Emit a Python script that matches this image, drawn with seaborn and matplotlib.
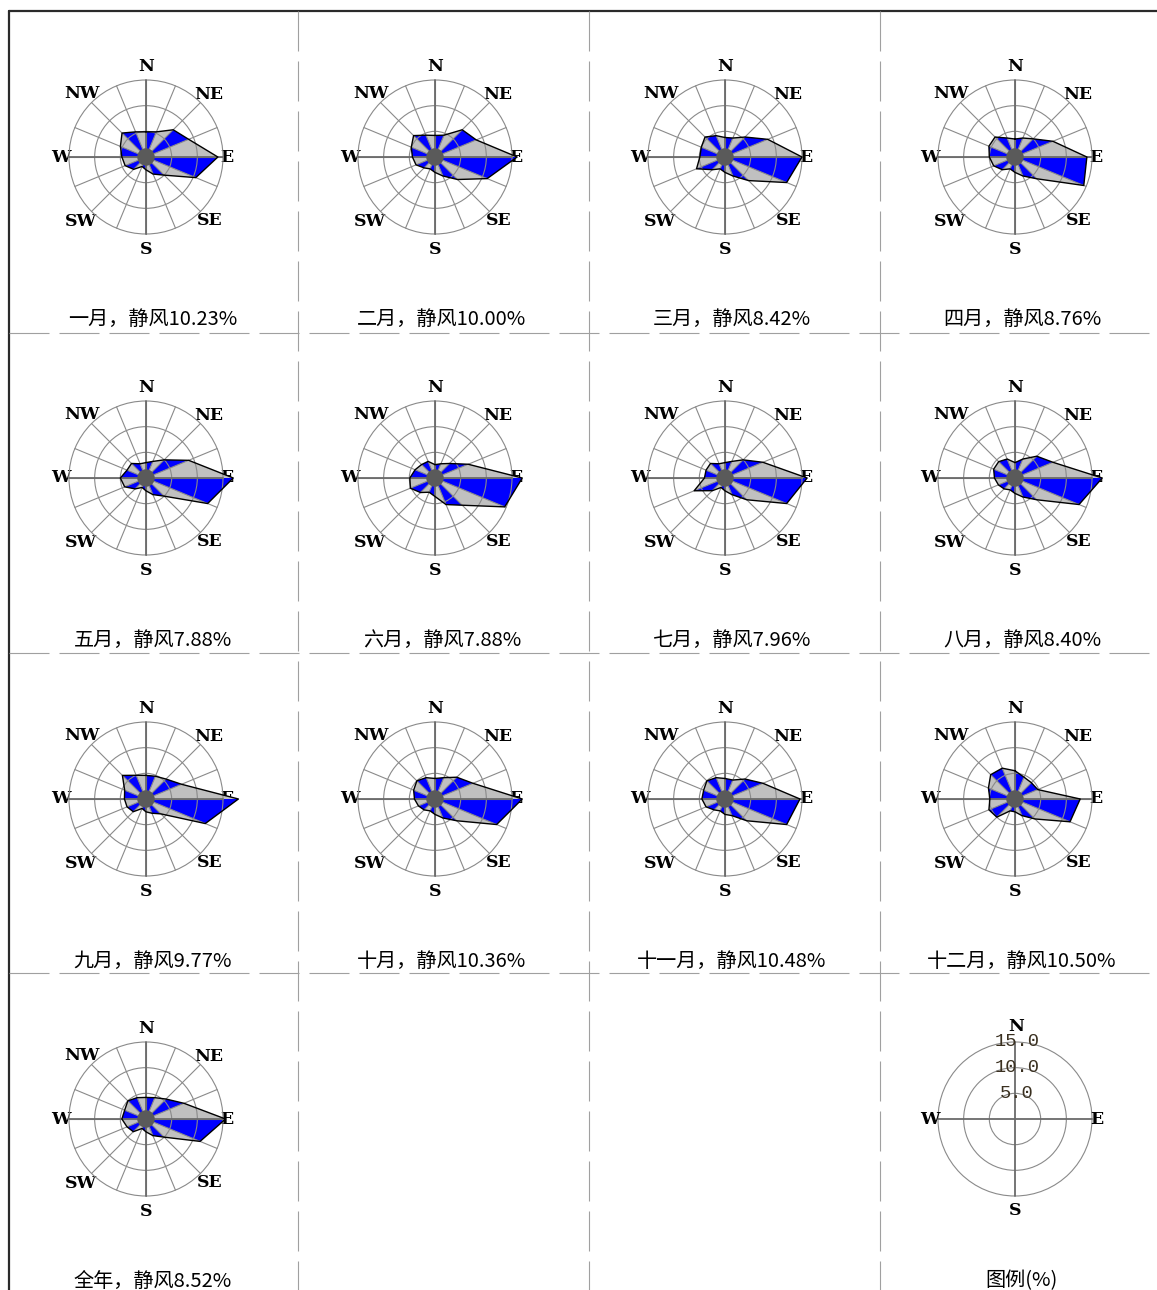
import numpy as np
import seaborn as sns
import matplotlib
matplotlib.use("Agg")
import matplotlib.pyplot as plt
from matplotlib.patches import Polygon, Circle

sns.set_theme(style="white")
plt.rcParams['font.family'] = ['Noto Sans CJK SC', 'DejaVu Sans']

# 16 wind directions, clockwise from north
directions = ['N', 'NNE', 'NE', 'ENE', 'E', 'ESE', 'SE', 'SSE',
              'S', 'SSW', 'SW', 'WSW', 'W', 'WNW', 'NW', 'NNW']
angles = np.arange(16) * 22.5

titles = ['一月', '二月', '三月', '四月', '五月', '六月', '七月', '八月',
          '九月', '十月', '十一月', '十二月', '全年']
calm = [10.23, 10.00, 8.42, 8.76, 7.88, 7.88, 7.96, 8.40, 9.77, 10.36, 10.48, 10.50, 8.52]

# direction frequency (%), order as in `directions`
jan = [4.9, 5.3, 7.5, 9.0, 14.0, 10.5, 5.0, 3.6, 2.5, 2.0, 3.4, 4.4, 4.7, 5.4, 6.6, 5.3]
feb = [4.2, 4.6, 7.5, 8.7, 16.0, 11.0, 6.2, 4.0, 3.0, 2.5, 3.0, 4.0, 4.4, 5.0, 5.9, 4.6]
mar = [3.8, 4.0, 5.5, 9.0, 15.0, 13.0, 6.5, 4.0, 3.0, 2.5, 3.5, 6.0, 4.9, 5.0, 5.5, 4.5]
apr = [3.5, 4.0, 5.0, 8.0, 14.0, 14.5, 6.0, 4.0, 3.0, 2.5, 3.5, 4.5, 5.0, 5.5, 5.5, 4.0]
may = [3.0, 3.5, 5.0, 9.0, 17.0, 13.0, 5.0, 3.5, 2.5, 2.0, 3.0, 4.5, 5.0, 4.0, 4.0, 3.0]
jun = [2.6, 3.0, 4.0, 7.0, 17.0, 14.7, 7.5, 5.6, 3.6, 3.0, 4.0, 5.2, 4.9, 4.2, 3.7, 3.5]
jul = [3.0, 3.5, 5.0, 8.0, 16.0, 13.0, 6.0, 3.5, 2.5, 2.0, 3.5, 6.5, 4.0, 4.0, 4.0, 3.0]
aug = [3.0, 4.0, 6.0, 8.0, 17.0, 13.5, 6.0, 4.0, 3.0, 2.5, 3.0, 3.5, 4.0, 4.5, 4.5, 4.0]
sep = [4.6, 4.8, 5.5, 7.5, 18.0, 12.5, 4.1, 3.0, 2.5, 2.0, 3.5, 4.0, 4.2, 4.5, 6.5, 5.0]
oct_ = [4.0, 4.5, 6.0, 8.0, 17.0, 13.0, 6.0, 4.0, 3.0, 2.5, 3.0, 3.5, 4.0, 4.5, 5.0, 4.5]
nov = [4.0, 4.0, 5.5, 8.0, 14.6, 13.0, 6.0, 3.5, 3.0, 2.5, 3.0, 4.0, 4.5, 4.5, 5.0, 4.5]
dec = [5.5, 4.6, 4.5, 4.8, 12.7, 11.6, 5.5, 3.5, 2.5, 2.5, 5.0, 5.5, 4.9, 5.6, 6.7, 6.5]
annual = [4.2, 4.5, 5.5, 8.0, 15.5, 11.4, 5.0, 3.5, 2.5, 2.0, 3.5, 4.0, 4.7, 4.5, 5.0, 4.5]
freqs = [jan, feb, mar, apr, may, jun, jul, aug, sep, oct_, nov, dec, annual]

rings = [5, 10, 15]
ring_labels = ['5.0', '10.0', '15.0']

W, H = 1157, 1290
fig = plt.figure(figsize=(W / 100, H / 100), dpi=100)
fig.patch.set_facecolor('white')

bg = fig.add_axes([0, 0, 1, 1])
bg.set_xlim(0, W)
bg.set_ylim(H, 0)
bg.axis('off')

col_x = [146, 435, 725, 1015]
row_y = [157, 478, 799, 1119]
PX = 77 / 15.0   # pixels per percent
R = 20

GRID = '#8a8a8a'
AXIS = '#6a6a6a'
lab_font = dict(family='DejaVu Serif', fontsize=12.5, fontweight='bold', color='black')

# page frame and dashed cell separators
bg.plot([9, W], [11, 11], color='#2a2a2a', lw=1.6)
bg.plot([9, 9], [11, H], color='#2a2a2a', lw=1.6)
for x in [298, 589, 880]:
    bg.plot([x, x], [11, H], color='#a0a0a0', lw=0.8, linestyle=(0, (36, 9)))
for y in [333, 653, 973]:
    bg.plot([9, W], [y, y], color='#a0a0a0', lw=0.8, linestyle=(0, (36, 9)))


def make_ax(cx, cy):
    half = R * PX
    ax = fig.add_axes([(cx - half) / W, 1 - (cy + half) / H, 2 * half / W, 2 * half / H])
    ax.set_facecolor('none')
    return ax


def finish(ax):
    ax.set_xlim(-R, R)
    ax.set_ylim(-R, R)
    ax.set_aspect('equal')
    ax.axis('off')


label_r = {'N': 17.6, 'NE': 17.3, 'E': 15.8, 'SE': 17.5,
           'S': 18.1, 'SW': 17.8, 'W': 16.6, 'NW': 17.5}

for i, (name, c, f) in enumerate(zip(titles, calm, freqs)):
    cx, cy = col_x[i % 4], row_y[i // 4]
    ax = make_ax(cx, cy)
    th = np.deg2rad(angles)
    f = np.array(f)
    xs, ys = f * np.sin(th), f * np.cos(th)

    ax.add_patch(Polygon(np.column_stack([xs, ys]), closed=True, fc='#c0c0c0', ec='none', zorder=1))
    for k in range(0, 16, 2):
        tri = [(0, 0), (xs[k], ys[k]), (xs[k + 1], ys[k + 1])]
        ax.add_patch(Polygon(tri, closed=True, fc='#0000ff', ec='none', zorder=2))

    for r in rings:
        ax.add_patch(Circle((0, 0), r, fill=False, ec=GRID, lw=0.8, zorder=3))
    for a in th:
        ax.plot([0, 15 * np.sin(a)], [0, 15 * np.cos(a)], color=GRID, lw=0.8, zorder=3)
    ax.plot([0, 0], [-15, 15], color=AXIS, lw=1.3, zorder=3)
    ax.plot([-15, 15], [0, 0], color=AXIS, lw=1.3, zorder=3)

    sns.lineplot(x=np.append(xs, xs[0]), y=np.append(ys, ys[0]), sort=False,
                 estimator=None, color='black', lw=1.0, ax=ax, zorder=4)
    ax.add_patch(Circle((0, 0), 1.7, fc='#5a5a5a', ec='none', zorder=5))

    for d, a in zip(directions, angles):
        if d in label_r:
            rr = label_r[d]
            ax.text(rr * np.sin(np.deg2rad(a)), rr * np.cos(np.deg2rad(a)), d,
                    ha='center', va='center', zorder=0, **lab_font)
    finish(ax)

    bg.text(cx + 7, cy + 162, f'{name}，静风{c:.2f}%', ha='center', va='center',
            fontsize=14.5, color='black', family=['Noto Sans CJK SC', 'DejaVu Sans'])

# legend rose
cx, cy = col_x[3], row_y[3]
ax = make_ax(cx, cy)
for r, t in zip(rings, ring_labels):
    ax.add_patch(Circle((0, 0), r, fill=False, ec=GRID, lw=0.8, zorder=3))
ax.plot([0, 0], [-15, 15], color=AXIS, lw=1.3, zorder=3)
ax.plot([-15, 15], [0, 0], color=AXIS, lw=1.3, zorder=3)
for r, t in zip(rings, ring_labels):
    ax.text(0.4, r, t, ha='center', va='center', fontsize=13.5, color='#3a3020',
            family='Liberation Mono', zorder=4)
ax.text(0.3, 18.1, 'N', ha='center', va='center', zorder=5, **lab_font)
ax.text(16.0, 0, 'E', ha='center', va='center', **lab_font)
ax.text(-16.5, 0, 'W', ha='center', va='center', **lab_font)
ax.text(0, -17.9, 'S', ha='center', va='center', **lab_font)
finish(ax)
bg.text(cx + 7, cy + 162, '图例(%)', ha='center', va='center',
        fontsize=14.5, color='black', family=['Noto Sans CJK SC', 'DejaVu Sans'])

fig.savefig('out.png', dpi=100, facecolor='white')
